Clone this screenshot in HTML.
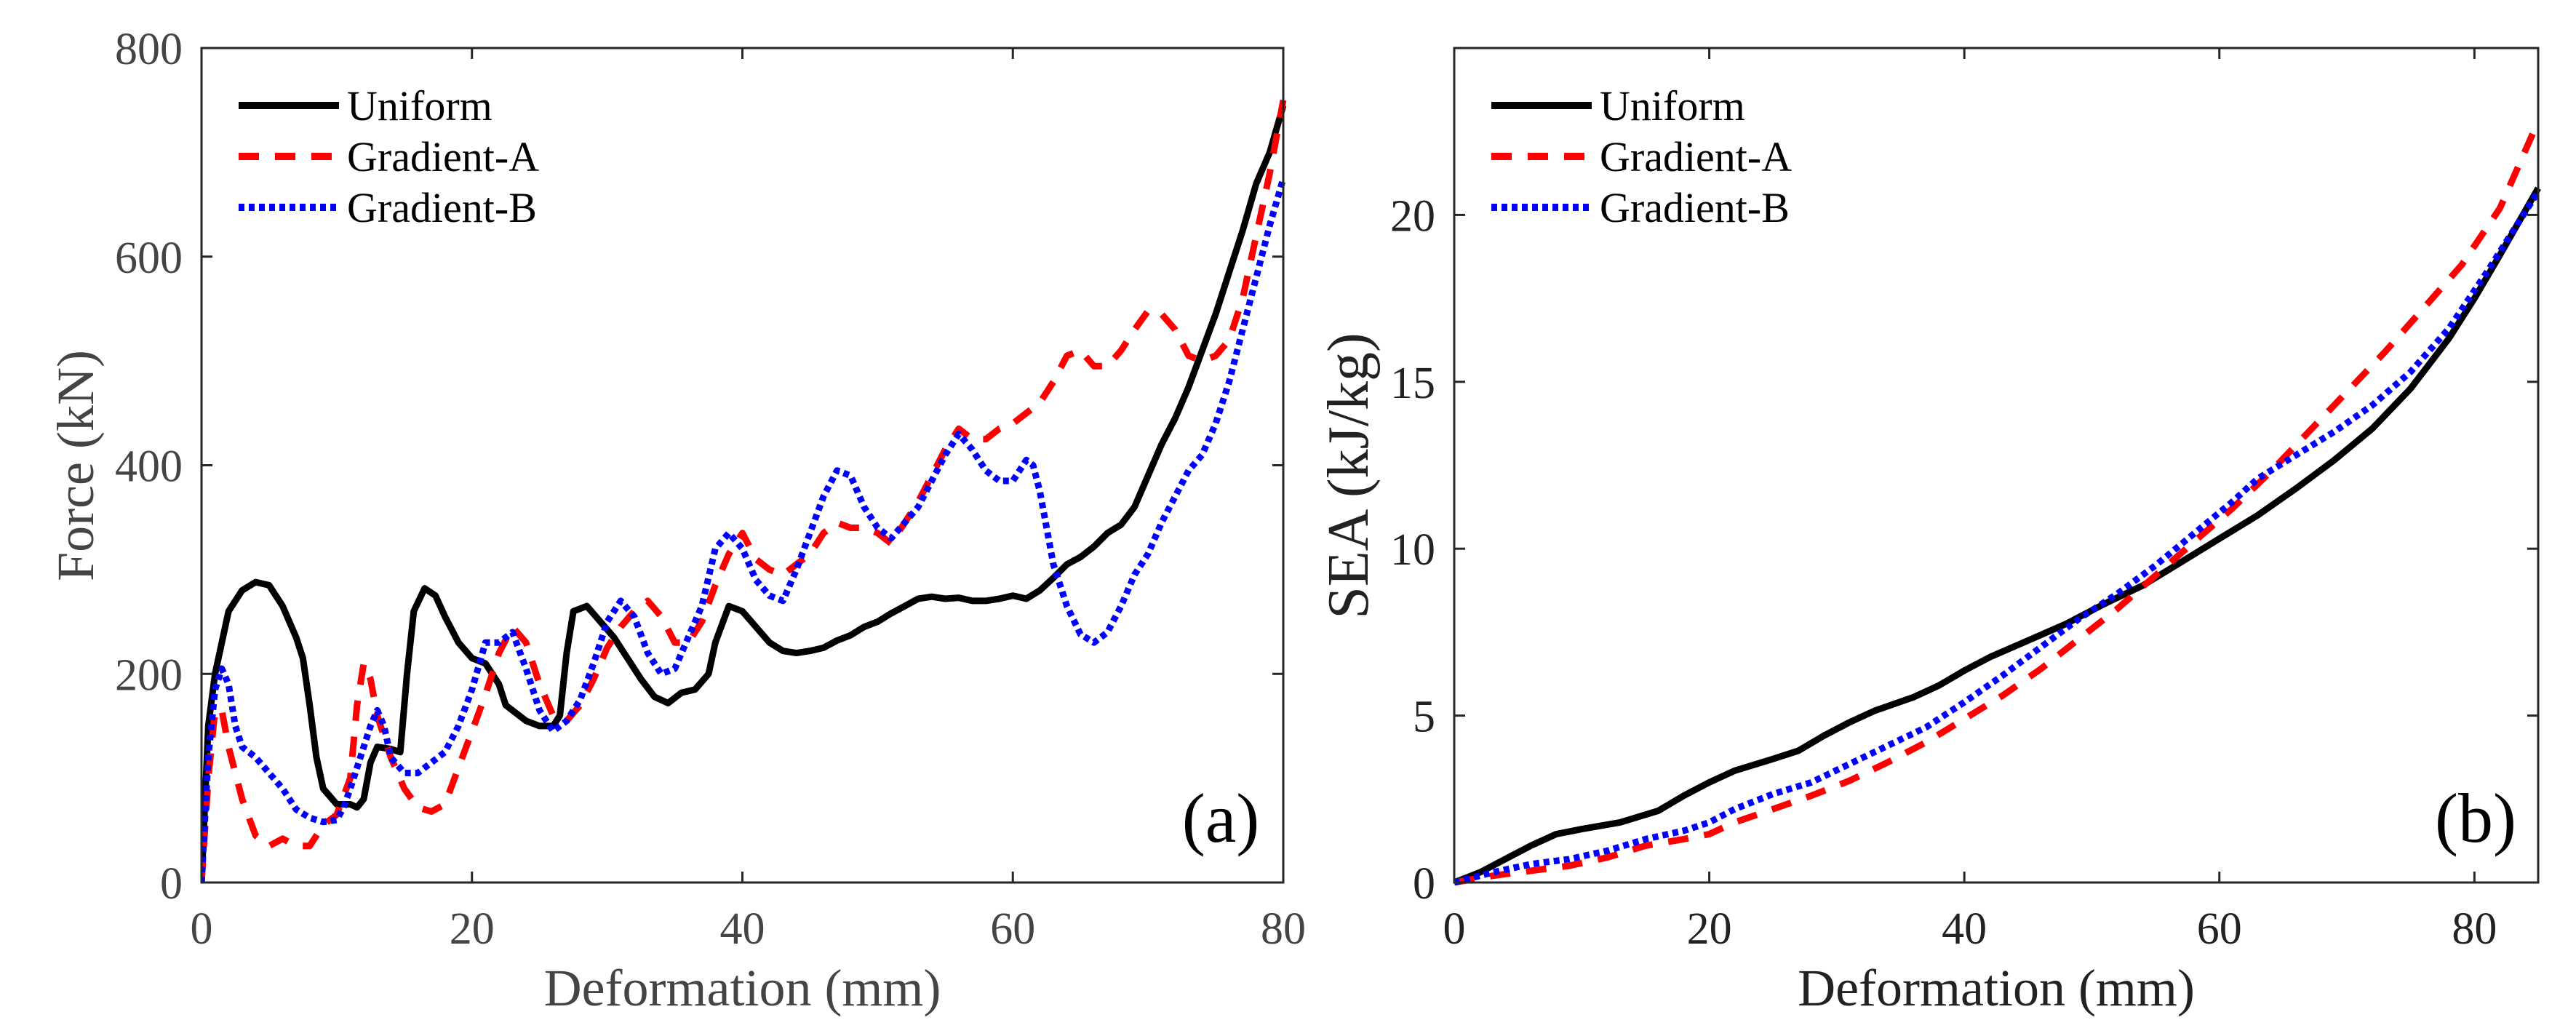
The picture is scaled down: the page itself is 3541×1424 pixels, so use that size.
<!DOCTYPE html>
<html><head><meta charset="utf-8"><style>
html,body{margin:0;padding:0;background:#fff;}
svg{display:block;}
svg text{font-family:"Liberation Serif","Times New Roman","Nimbus Roman",serif;}
</style></head><body>
<svg id="fig" width="3541" height="1424" viewBox="0 0 3541 1424" xmlns="http://www.w3.org/2000/svg"></svg>
<script>
// ---- Chart (a) data ----
const aUniX=[0,0.5,1,1.5,2,3,4,5,6,7,7.5,8,8.5,9,10,11,11.5,12,12.5,13,14,14.7,15.2,15.7,16.5,17.3,18,19,20,21,22,22.5,23,24,25,26,26.5,27,27.5,28.5,29.5,30.5,31.5,32.5,33.5,34.5,35.5,36.5,37.5,38,39,40,41,42,43,44,45,46,47,48,49,50,51,52,53,54,55,56,57,58,59,60,61,62,63,64,65,66,67,68,69,70,71,72,73,74,75,76,77,78,79,80];
const aUniY=[0,150,200,230,260,280,288,285,265,235,215,170,120,90,75,75,72,80,115,130,128,125,200,260,282,275,255,230,215,210,190,170,165,155,150,150,160,220,260,265,250,235,215,195,178,172,182,185,200,230,265,260,245,230,222,220,222,225,232,237,245,250,258,265,272,274,272,273,270,270,272,275,272,280,292,305,312,322,335,343,360,390,420,445,475,510,545,585,625,670,700,745];
const aGAX=[0,0.5,1,1.5,2,3,4,5,6,7,8,9,10,11,11.5,12,12.5,13,14,15,16,17,18,19,20,21,22,23,24,25,26,27,28,29,30,31,32,33,34,35,36,37,38,39,40,41,42,43,44,45,46,47,48,49,50,51,52,53,54,55,56,57,58,59,60,61,62,63,64,65,66,67,68,69,70,71,72,73,74,75,76,77,78,79,80];
const aGAY=[0,100,165,165,130,80,45,35,42,35,35,55,65,100,170,210,195,160,120,90,72,68,75,110,145,180,220,245,230,190,160,155,170,195,225,245,260,270,255,230,230,250,285,315,335,310,300,295,305,315,335,345,340,340,335,325,345,365,390,415,435,425,425,435,440,450,460,480,505,510,495,495,510,530,548,545,530,505,500,505,520,560,620,680,750];
const aGBX=[0,0.5,1,1.5,2,2.5,3,4,5,6,7,8,9,10,10.5,11,12,12.5,13,13.5,14,15,16,17,18,19,20,21,22,23,24,25,26,27,28,29,30,31,32,33,34,35,36,37,38,39,40,41,42,43,44,45,46,47,48,49,50,51,52,53,54,55,56,57,58,59,60,61,61.5,62,63,64,65,66,67,68,69,70,71,72,73,74,75,76,77,78,79,80];
const aGBY=[0,120,185,205,190,150,130,120,105,90,70,62,58,60,72,90,130,150,165,150,120,105,105,115,125,150,185,230,230,240,205,165,145,155,175,210,250,270,255,220,200,205,235,265,320,335,320,290,275,270,300,335,370,395,390,360,340,330,345,360,385,410,430,415,395,385,385,405,400,375,305,265,238,230,240,265,295,315,345,370,395,410,440,480,530,580,630,675];
const aXTicks=[0,20,40,60,80];
const aYTicks=[0,200,400,600,800];
// ---- Chart (b) data ----
const bUniX=[0,2,4,6,8,10,13,16,18,20,22,25,27,29,31,33,36,38,40,42,45,48,51,54,57,60,63,66,69,72,75,78,80,82,85];
const bUniY=[0,0.3,0.7,1.1,1.45,1.6,1.8,2.15,2.6,3.0,3.35,3.7,3.95,4.4,4.8,5.15,5.55,5.9,6.35,6.75,7.25,7.75,8.35,8.9,9.6,10.3,11,11.8,12.65,13.6,14.8,16.3,17.5,18.8,20.8];
const bGAX=[0,3,6,9,12,15,18,20,22,25,28,31,34,37,40,43,46,49,52,55,58,61,64,67,70,73,76,79,82,85];
const bGAY=[0,0.2,0.35,0.5,0.75,1.1,1.3,1.45,1.8,2.2,2.6,3.05,3.6,4.2,4.9,5.6,6.4,7.3,8.2,9.2,10.2,11.2,12.3,13.5,14.7,15.9,17.2,18.5,20.2,22.8];
const bGBX=[0,3,6,9,12,15,18,20,22,25,28,31,34,37,40,43,46,49,52,55,58,61,63,66,69,72,75,78,81,85];
const bGBY=[0,0.3,0.55,0.7,0.95,1.3,1.55,1.8,2.2,2.65,3.0,3.55,4.1,4.65,5.4,6.2,7.05,7.9,8.65,9.5,10.45,11.4,12.1,12.8,13.5,14.3,15.3,16.6,18.3,20.7];
const bXTicks=[0,20,40,60,80];
const bYTicks=[0,5,10,15,20];

const NS="http://www.w3.org/2000/svg";
const FF='"Liberation Serif","Times New Roman",serif';
const svg=document.getElementById('fig');
function mk(tag,attrs,parent){const e=document.createElementNS(NS,tag);for(const k in attrs)e.setAttribute(k,attrs[k]);if(tag==='text')e.setAttribute('font-family',FF);(parent||svg).appendChild(e);return e;}

function chart(cfg){
  const g=mk('g',{});
  
  
  const L=cfg.L,R=cfg.R,T=66,B=1213;
  const sx=v=>L+(v-cfg.xmin)/(cfg.xmax-cfg.xmin)*(R-L);
  const sy=v=>B-(v-cfg.ymin)/(cfg.ymax-cfg.ymin)*(B-T);
  const styles=[
    {c:'#000',w:9,d:'',n:'Uniform',key:'uniform'},
    {c:'#ff0000',w:9,d:'28 22',n:'Gradient-A',key:'gradient-a'},
    {c:'#0000ff',w:9,d:'8 6',n:'Gradient-B',key:'gradient-b'}];
  const clip=mk('clipPath',{id:'clip-'+cfg.name},g);
  mk('rect',{x:L,y:T-20,width:R-L+6,height:B-T+24},clip);
  cfg.series.forEach((s,i)=>{
    const st=styles[i];
    let d='';
    s.x.forEach((xv,j)=>{d+=(j?'L':'M')+sx(xv).toFixed(1)+' '+sy(s.y[j]).toFixed(1);});
    const p=mk('path',{d:d,fill:'none',stroke:st.c,'stroke-width':st.w,'stroke-dasharray':st.d,'stroke-linejoin':'round','clip-path':'url(#clip-'+cfg.name+')'},g);
    
    
  });
  const box=mk('rect',{x:L,y:T,width:R-L,height:B-T,fill:'none',stroke:'#262626','stroke-width':3},g);
  
  
  cfg.xt.forEach(v=>{
    const x=sx(v);
    mk('line',{x1:x,y1:B,x2:x,y2:B-15,stroke:'#262626','stroke-width':3},g);
    mk('line',{x1:x,y1:T,x2:x,y2:T+15,stroke:'#262626','stroke-width':3},g);
    const t=mk('text',{x:x,y:1297,'font-size':62,'text-anchor':'middle',fill:cfg.tc},g);
    t.textContent=v;
    
    
  });
  cfg.yt.forEach(v=>{
    const y=sy(v);
    mk('line',{x1:L,y1:y,x2:L+15,y2:y,stroke:'#262626','stroke-width':3},g);
    mk('line',{x1:R,y1:y,x2:R-15,y2:y,stroke:'#262626','stroke-width':3},g);
    const t=mk('text',{x:L-26,y:y+22,'font-size':62,'text-anchor':'end',fill:cfg.tc},g);
    t.textContent=v;
    
    
  });
  const xt=mk('text',{x:(L+R)/2,y:1382,'font-size':72,'text-anchor':'middle',fill:cfg.tc},g);
  xt.textContent='Deformation (mm)';
  
  
  const yt=mk('text',{x:0,y:0,'font-size':cfg.yfs,'text-anchor':'middle',fill:cfg.tc,transform:'translate('+cfg.ytx+','+cfg.yty+') rotate(-90)'},g);
  yt.textContent=cfg.ylabel;
  
  
  styles.forEach((st,i)=>{
    const y=145+i*70;
    const ln=mk('line',{x1:L+51,y1:y,x2:L+189,y2:y,stroke:st.c,'stroke-width':10,'stroke-dasharray':st.d},g);
    
    
    const t=mk('text',{x:L+200,y:y+20,'font-size':58,fill:'#000'},g);
    t.textContent=st.n;
    
    
  });
  const pl=mk('text',{x:R-86,y:1157,'font-size':96,'text-anchor':'middle',fill:'#000'},g);
  pl.textContent=cfg.panel;
  
  
}

chart({name:'chart-a-force',L:277,R:1764,xmin:0,xmax:80,ymin:0,ymax:800,xt:aXTicks,yt:aYTicks,tc:'#444',
  ylabel:'Force (kN)',yfs:72,ytx:128,yty:640,panel:'(a)',
  series:[{x:aUniX,y:aUniY},{x:aGAX,y:aGAY},{x:aGBX,y:aGBY}]});
chart({name:'chart-b-sea',L:1999,R:3489,xmin:0,xmax:85,ymin:0,ymax:25,xt:bXTicks,yt:bYTicks,tc:'#222',
  ylabel:'SEA  (kJ/kg)',yfs:80,ytx:1880,yty:654,panel:'(b)',
  series:[{x:bUniX,y:bUniY},{x:bGAX,y:bGAY},{x:bGBX,y:bGBY}]});
</script>
</body></html>
